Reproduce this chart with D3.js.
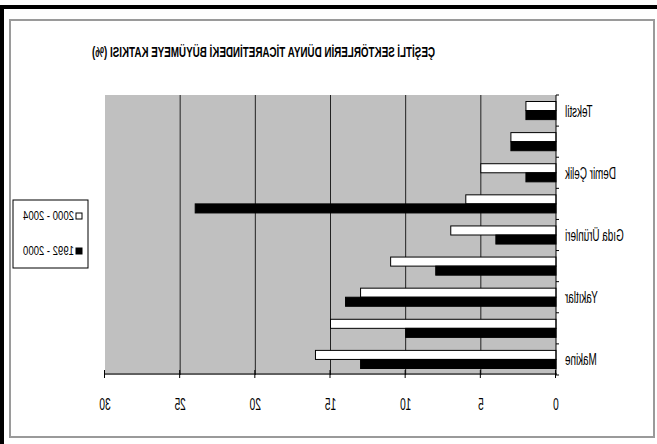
<!DOCTYPE html>
<html>
<head>
<meta charset="utf-8">
<script src="https://cdn.jsdelivr.net/npm/d3@7"></script>
<style>
  body { margin: 0; background: #fff; }
  text { font-family: "Liberation Sans", Arial, sans-serif; fill: #000; }
</style>
</head>
<body>
<div class="chart"></div>
<script>
var categories = ["Tekstil", "", "Demir Çelik", "", "Gıda Ürünleri", "", "Yakıtlar", "", "Makine"];
var series = ["2000 - 2004", "1992 - 2000"];
var v2000_2004 = [2, 3, 5, 6, 7, 11, 13, 15, 16];
var v1992_2000 = [2, 3, 2, 24, 4, 8, 14, 10, 13];
var xTicks = [0, 5, 10, 15, 20, 25, 30];
var title = "ÇEŞİTLİ SEKTÖRLERİN DÜNYA TİCARETİNDEKİ BÜYÜMEYE KATKISI (%)";

var W = 657, H = 444;
var svg = d3.select(".chart").append("svg")
    .attr("width", W).attr("height", H);

// outer frames (screen coords)
svg.append("rect").attr("x", 0).attr("y", 5).attr("width", W).attr("height", 4).attr("fill", "#000");
svg.append("rect").attr("x", 0).attr("y", 5).attr("width", 4).attr("height", H - 5).attr("fill", "#000");
svg.append("rect").attr("x", 10).attr("y", 20).attr("width", 644).attr("height", 417)
    .attr("fill", "none").attr("stroke", "#9a9a9a").attr("stroke-width", 2);

// the picture is a mirror image, so everything is drawn then flipped
var g = svg.append("g").attr("transform", "translate(" + W + ",0) scale(-1,1)");

var x = d3.scaleLinear().domain([0, 30]).range([101, 552]);
var y = d3.scaleBand().domain(d3.range(categories.length)).range([95, 375]);
var sub = d3.scaleBand().domain(series).range([6.5, y.bandwidth() - 6.5]);

function squeeze(sel, f) {
    sel.each(function () {
        var n = this.getComputedTextLength();
        if (n > 0) d3.select(this).attr("textLength", n * f).attr("lengthAdjust", "spacingAndGlyphs");
    });
}

// plot background
g.append("rect").attr("x", x(0)).attr("y", 95).attr("width", x(30) - x(0)).attr("height", 280)
    .attr("fill", "#c0c0c0");

// gridlines
g.append("g").selectAll("line").data(xTicks.filter(function (d) { return d > 0 && d < 30; }))
    .enter().append("line")
    .attr("x1", function (d) { return x(d); }).attr("x2", function (d) { return x(d); })
    .attr("y1", 95).attr("y2", 375)
    .attr("stroke", "#222").attr("stroke-width", 1);

// bars
var rows = categories.map(function (c, i) {
    return [{ s: series[0], v: v2000_2004[i], i: i, fill: "#fff" },
            { s: series[1], v: v1992_2000[i], i: i, fill: "#000" }];
});
g.append("g").selectAll("rect").data(d3.merge(rows))
    .enter().append("rect")
    .attr("x", x(0))
    .attr("y", function (d) { return y(d.i) + sub(d.s); })
    .attr("width", function (d) { return x(d.v) - x(0); })
    .attr("height", sub.bandwidth())
    .attr("fill", function (d) { return d.fill; })
    .attr("stroke", "#000").attr("stroke-width", 1);

// value axis
var xAxis = g.append("g").attr("transform", "translate(0,374)")
    .call(d3.axisBottom(x).tickValues(xTicks).tickSize(4).tickFormat(""));
xAxis.select(".domain").attr("stroke", "#000").attr("d", "M" + (x(0) - 1) + ",0H" + (x(30) + 1));
xAxis.selectAll(".tick line").attr("y1", -4).attr("stroke", "#000");

g.append("g").selectAll("text").data(xTicks).enter().append("text")
    .attr("x", function (d) { return x(d); }).attr("y", 410)
    .attr("text-anchor", "middle").style("font-size", "17px")
    .text(function (d) { return d; })
    .call(squeeze, 0.6);

// category axis
g.append("line").attr("x1", x(0)).attr("x2", x(0)).attr("y1", 95).attr("y2", 375)
    .attr("stroke", "#000");
g.append("g").selectAll("line").data(d3.range(categories.length + 1))
    .enter().append("line")
    .attr("x1", x(0) - 3).attr("x2", x(0))
    .attr("y1", function (d) { return d < categories.length ? y(d) : 375; })
    .attr("y2", function (d) { return d < categories.length ? y(d) : 375; })
    .attr("stroke", "#000");

g.append("g").selectAll("text").data(categories).enter().append("text")
    .attr("x", 92)
    .attr("y", function (d, i) { return y(i) + y.bandwidth() / 2 + 6; })
    .attr("text-anchor", "end").style("font-size", "17px")
    .text(function (d) { return d; })
    .call(squeeze, 0.58);

// title
g.append("text").attr("x", 393.5).attr("y", 57)
    .attr("text-anchor", "middle").style("font-size", "15px").style("font-weight", "bold")
    .text(title)
    .call(function (sel) {
        var n = sel.node().getComputedTextLength();
        sel.attr("textLength", Math.min(n, 343)).attr("lengthAdjust", "spacingAndGlyphs");
    });

// legend
var lg = g.append("g");
lg.append("rect").attr("x", 569).attr("y", 200).attr("width", 75).attr("height", 68)
    .attr("fill", "#fff").attr("stroke", "#000");
var items = lg.selectAll("g").data([{ s: series[0], fill: "#fff", yy: 213 }, { s: series[1], fill: "#000", yy: 248 }])
    .enter().append("g");
items.append("rect").attr("x", 575).attr("y", function (d) { return d.yy; })
    .attr("width", 6).attr("height", 6)
    .attr("fill", function (d) { return d.fill; }).attr("stroke", "#000");
items.append("text").attr("x", 583).attr("y", function (d) { return d.yy + 7; })
    .style("font-size", "12px")
    .attr("textLength", 51).attr("lengthAdjust", "spacingAndGlyphs")
    .text(function (d) { return d.s; });
</script>
</body>
</html>
